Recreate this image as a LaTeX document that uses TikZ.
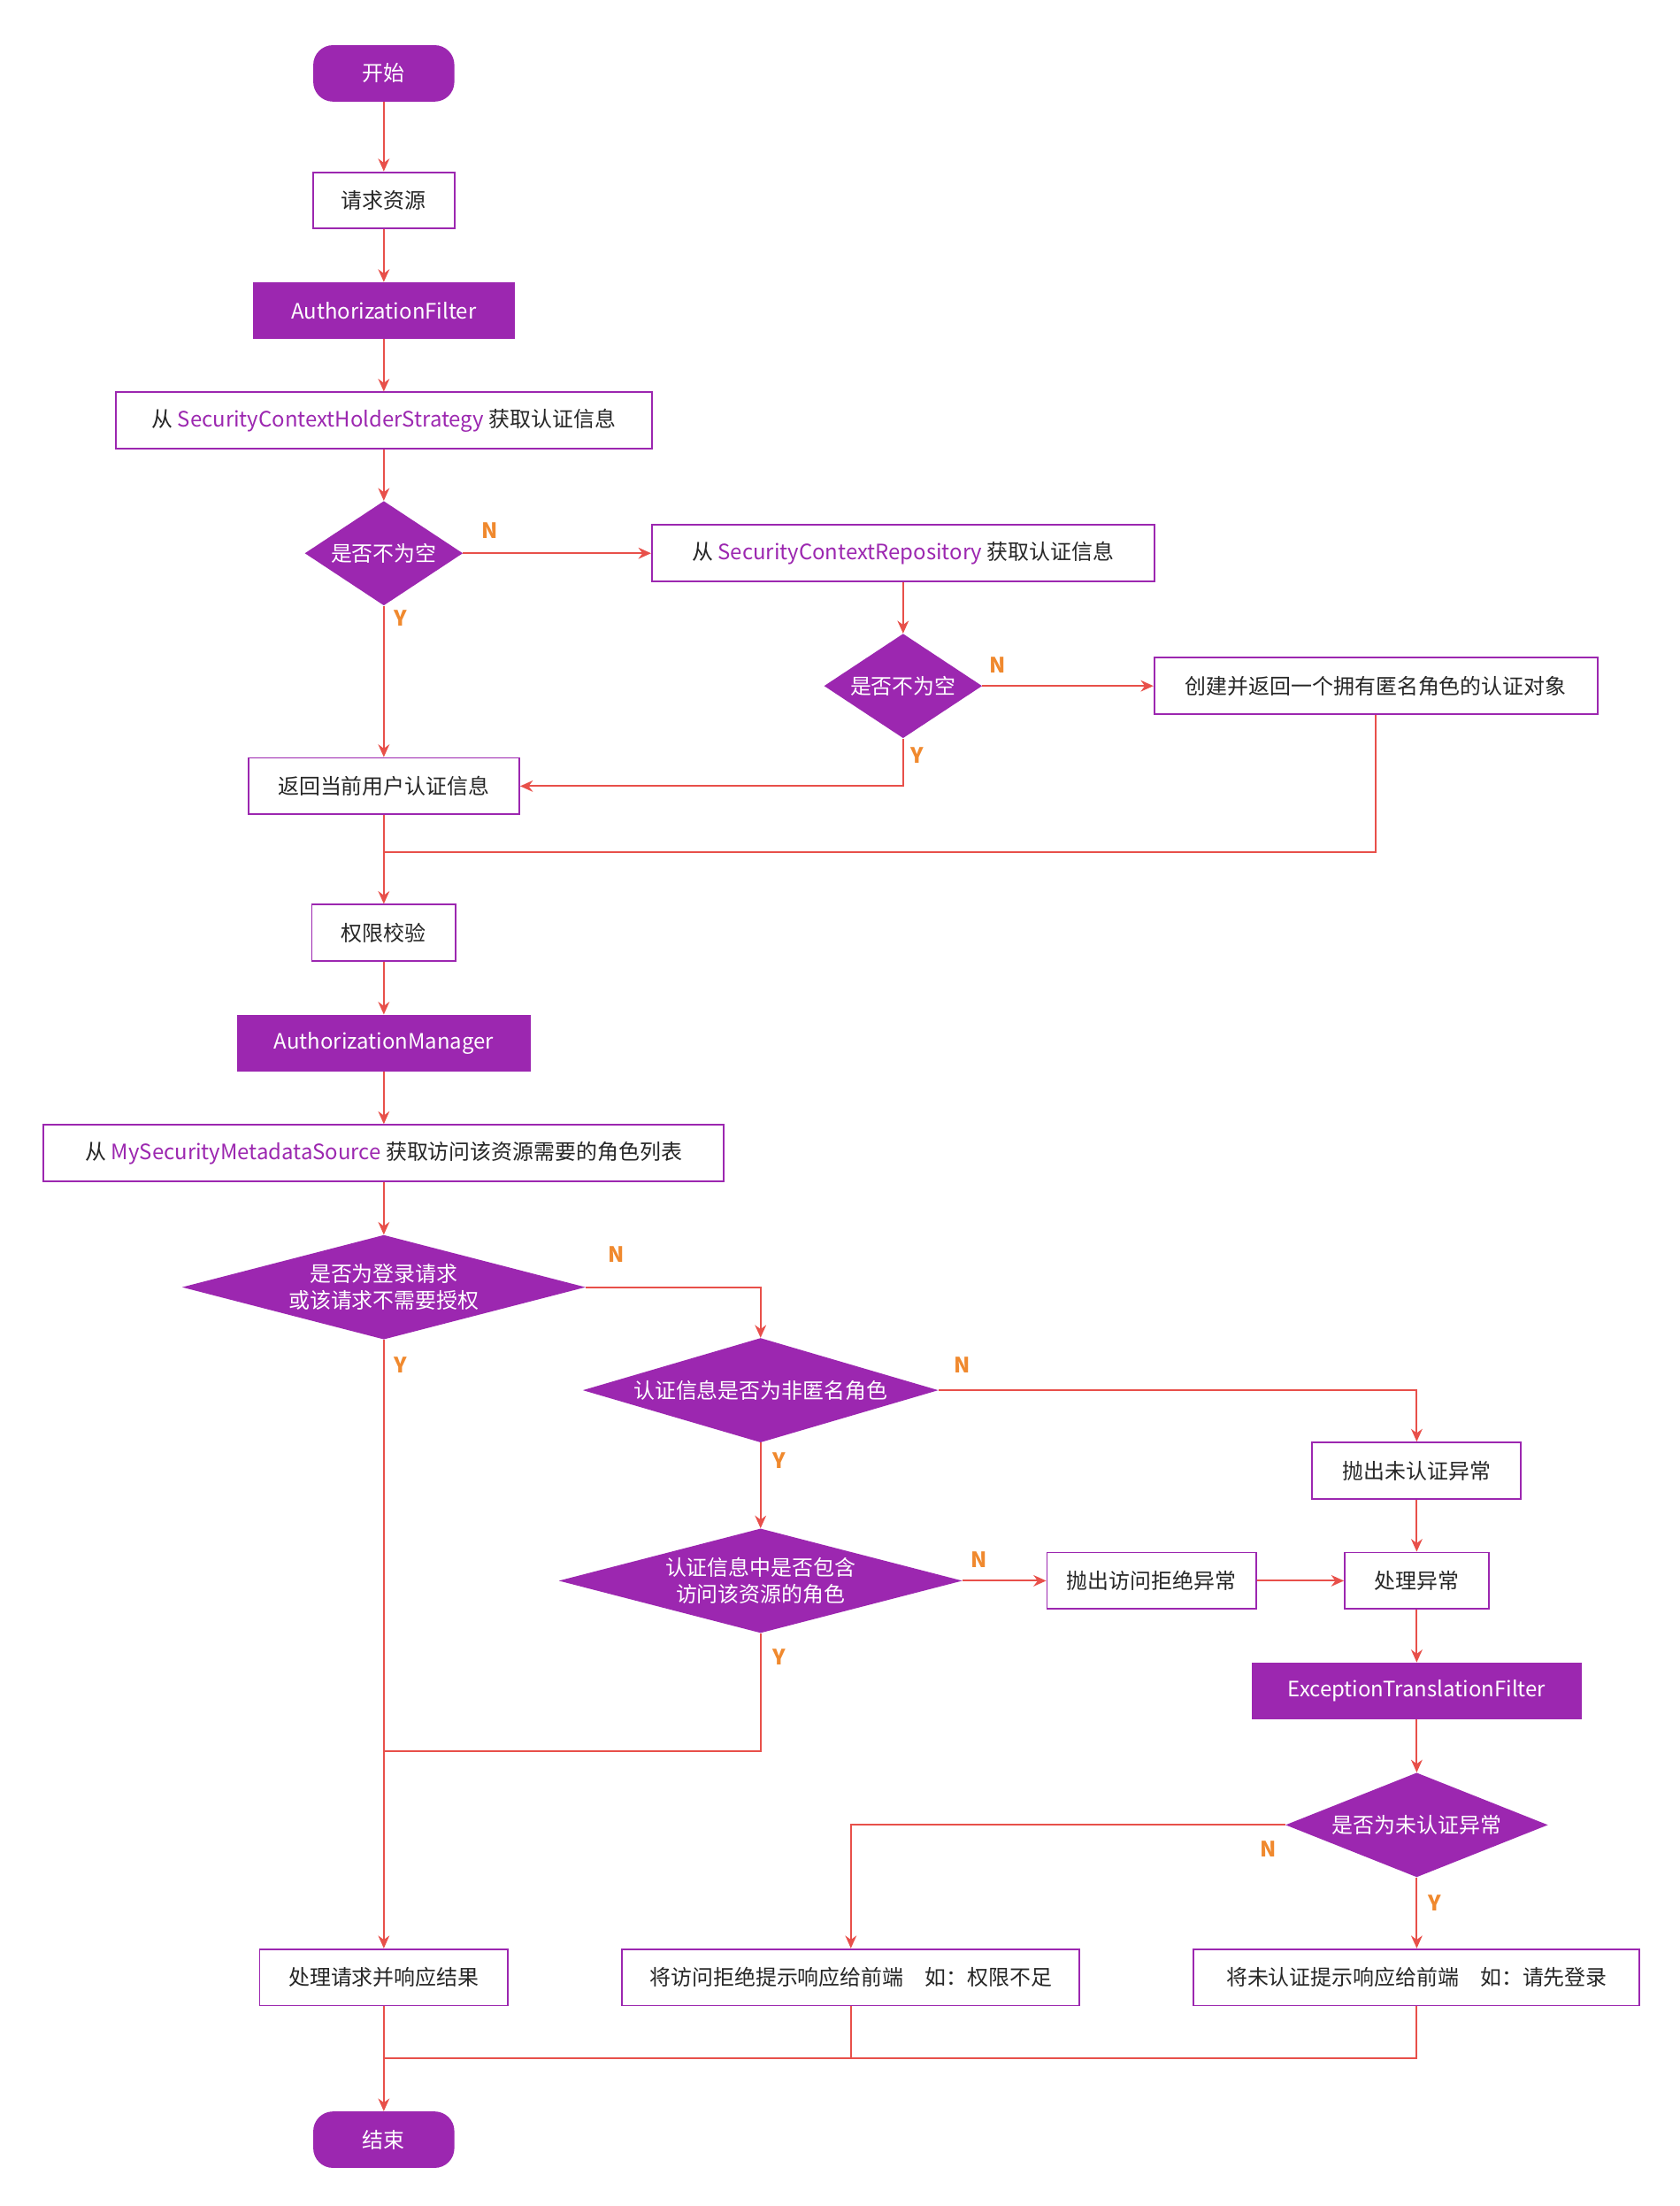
\documentclass[tikz,border=0pt]{standalone}
\usepackage{fontspec}
\setmainfont{Noto Sans CJK SC}
\usetikzlibrary{shapes.geometric,arrows.meta}
\definecolor{pp}{HTML}{9C27B0}
\definecolor{ln}{HTML}{E8504A}
\definecolor{lb}{HTML}{F0892E}
\begin{document}
\begin{tikzpicture}[x=1pt,y=-1pt,
  font=\fontsize{15}{19}\selectfont,
  box/.style={draw=pp,line width=1.2pt,fill=white,text=black!85,minimum height=40pt,inner sep=0pt},
  fbox/.style={fill=pp,text=white,minimum height=40pt,inner sep=0pt},
  term/.style={fill=pp,text=white,rounded corners=14pt,minimum width=100pt,minimum height=40pt},
  dia/.style={diamond,fill=pp,text=white,inner sep=0pt,align=center},
  ar/.style={draw=ln,line width=1.2pt,-{Stealth[length=9pt,width=8pt]}},
  pl/.style={draw=ln,line width=1.2pt},
  yn/.style={text=lb,font=\fontsize{15}{18}\selectfont\bfseries}]
\useasboundingbox[fill=white] (0,0) rectangle (1190,1563);
\node[term] (start) at (272,52) {开始};
\node[box,minimum width=100pt] (req) at (272,142) {请求资源};
\node[fbox,minimum width=186pt] (af) at (272,220) {AuthorizationFilter};
\node[box,minimum width=380pt] (s1) at (272,298) {从 \textcolor{pp}{SecurityContextHolderStrategy} 获取认证信息};
\node[dia,minimum width=112pt,minimum height=74pt,aspect=1.51] (d1) at (272,392) {是否不为空};
\node[box,minimum width=356pt] (r1) at (640,392) {从 \textcolor{pp}{SecurityContextRepository} 获取认证信息};
\node[dia,minimum width=112pt,minimum height=74pt,aspect=1.51] (d2) at (640,486) {是否不为空};
\node[box,minimum width=314pt] (anon) at (975,486) {创建并返回一个拥有匿名角色的认证对象};
\node[box,minimum width=192pt] (ret) at (272,557) {返回当前用户认证信息};
\node[box,minimum width=102pt] (perm) at (272,661) {权限校验};
\node[fbox,minimum width=208pt] (am) at (272,739) {AuthorizationManager};
\node[box,minimum width=482pt] (ms) at (272,817) {从 \textcolor{pp}{MySecurityMetadataSource} 获取访问该资源需要的角色列表};
\node[dia,minimum width=286pt,minimum height=74pt,aspect=3.86] (d3) at (272,912) {是否为登录请求\\或该请求不需要授权};
\node[dia,minimum width=252pt,minimum height=74pt,aspect=3.4] (d4) at (539,985) {认证信息是否为非匿名角色};
\node[box,minimum width=148pt] (t1) at (1004,1042) {抛出未认证异常};
\node[dia,minimum width=286pt,minimum height=74pt,aspect=3.86] (d5) at (539,1120) {认证信息中是否包含\\访问该资源的角色};
\node[box,minimum width=148pt] (t2) at (816,1120) {抛出访问拒绝异常};
\node[box,minimum width=102pt] (hd) at (1004,1120) {处理异常};
\node[fbox,minimum width=234pt] (etf) at (1004,1198) {ExceptionTranslationFilter};
\node[dia,minimum width=186pt,minimum height=74pt,aspect=2.51] (d6) at (1004,1293) {是否为未认证异常};
\node[box,minimum width=176pt] (proc) at (272,1401) {处理请求并响应结果};
\node[box,minimum width=324pt] (deny) at (603,1401) {将访问拒绝提示响应给前端　如：权限不足};
\node[box,minimum width=316pt] (ua) at (1004,1401) {将未认证提示响应给前端　如：请先登录};
\node[term] (end) at (272,1516) {结束};
\coordinate (m1) at (272,604);
\coordinate (m2) at (272,1241);
\coordinate (m3) at (603,1458);
\coordinate (m4) at (272,1458);
\draw[ar] (start)--(req); \draw[ar] (req)--(af); \draw[ar] (af)--(s1); \draw[ar] (s1)--(d1);
\draw[ar] (d1.east)--(r1.west); \node[yn] at (347,376) {N};
\draw[ar] (d1.south)--(ret.north); \node[yn] at (284,438) {Y};
\draw[ar] (r1)--(d2);
\draw[ar] (d2.east)--(anon.west); \node[yn] at (707,471) {N};
\draw[ar] (d2.south)|-(ret.east); \node[yn] at (650,535) {Y};
\draw[pl] (anon.south)|-(m1);
\draw[ar] (ret)--(perm); \draw[ar] (perm)--(am); \draw[ar] (am)--(ms); \draw[ar] (ms)--(d3);
\draw[ar] (d3.east)-|(d4.north); \node[yn] at (437,889) {N};
\draw[ar] (d3.south)--(proc.north); \node[yn] at (284,967) {Y};
\draw[ar] (d4.east)-|(t1.north); \node[yn] at (682,967) {N};
\draw[ar] (d4.south)--(d5.north); \node[yn] at (552,1035) {Y};
\draw[ar] (d5.east)--(t2.west); \node[yn] at (694,1105) {N};
\draw[ar] (t2)--(hd); \draw[ar] (t1)--(hd);
\draw[pl] (d5.south)|-(m2); \node[yn] at (552,1174) {Y};
\draw[ar] (hd)--(etf); \draw[ar] (etf)--(d6);
\draw[ar] (d6.west)-|(deny.north); \node[yn] at (899,1310) {N};
\draw[ar] (d6.south)--(ua.north); \node[yn] at (1017,1348) {Y};
\draw[ar] (proc)--(end);
\draw[pl] (deny.south)|-(m4);
\draw[pl] (ua.south)|-(m3);
\end{tikzpicture}
\end{document}
